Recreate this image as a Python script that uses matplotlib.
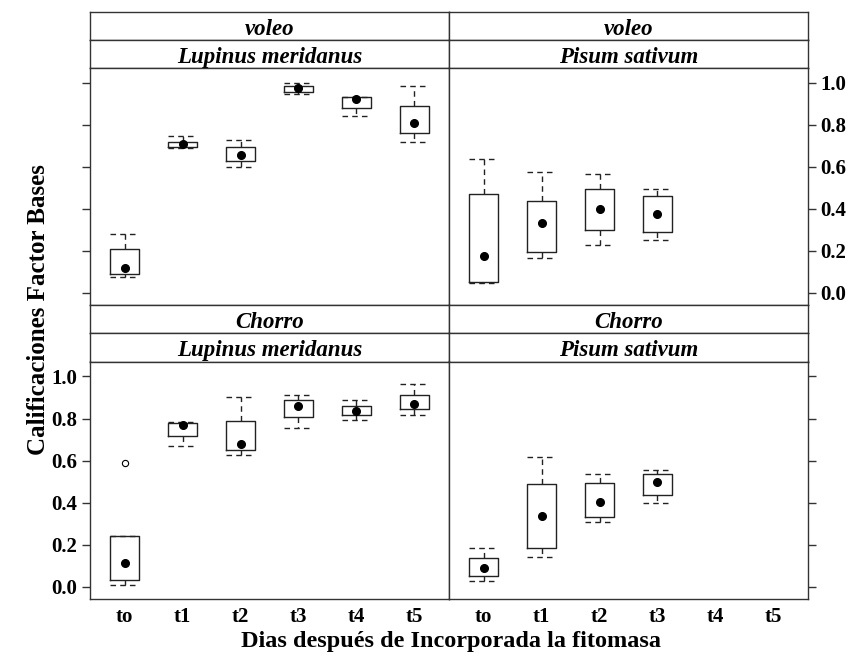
import matplotlib
matplotlib.use("Agg")
import matplotlib.pyplot as plt

plt.rcParams['font.family'] = ['Liberation Serif', 'DejaVu Serif']
plt.rcParams['font.weight'] = 'bold'

categories = ["to", "t1", "t2", "t3", "t4", "t5"]

# box stats per panel: lower whisker, q1, median, q3, upper whisker
vl_lupinus = dict(
    whislo=[0.076, 0.690, 0.601, 0.946, 0.843, 0.718],
    q1=[0.090, 0.694, 0.626, 0.959, 0.881, 0.762],
    med=[0.119, 0.707, 0.655, 0.975, 0.924, 0.810],
    q3=[0.208, 0.721, 0.694, 0.984, 0.933, 0.892],
    whishi=[0.282, 0.745, 0.729, 1.000, 0.933, 0.984],
    fliers=[[], [], [], [], [], []],
)
vl_pisum = dict(
    whislo=[0.049, 0.165, 0.230, 0.253],
    q1=[0.054, 0.194, 0.301, 0.289],
    med=[0.176, 0.333, 0.401, 0.377],
    q3=[0.469, 0.436, 0.496, 0.461],
    whishi=[0.636, 0.575, 0.564, 0.496],
    fliers=[[], [], [], []],
)
ch_lupinus = dict(
    whislo=[0.010, 0.670, 0.627, 0.754, 0.795, 0.819],
    q1=[0.035, 0.718, 0.652, 0.808, 0.816, 0.845],
    med=[0.116, 0.770, 0.681, 0.860, 0.838, 0.870],
    q3=[0.243, 0.778, 0.789, 0.886, 0.860, 0.914],
    whishi=[0.243, 0.784, 0.900, 0.910, 0.888, 0.962],
    fliers=[[0.590], [], [], [], [], []],
)
ch_pisum = dict(
    whislo=[0.027, 0.143, 0.308, 0.398],
    q1=[0.054, 0.186, 0.334, 0.437],
    med=[0.092, 0.338, 0.403, 0.498],
    q3=[0.137, 0.490, 0.494, 0.538],
    whishi=[0.183, 0.616, 0.538, 0.554],
    fliers=[[], [], [], []],
)

strip_top = ["voleo", "voleo", "Chorro", "Chorro"]
strip_bot = ["Lupinus meridanus", "Pisum sativum", "Lupinus meridanus", "Pisum sativum"]
yticks = [0.0, 0.2, 0.4, 0.6, 0.8, 1.0]

W, H = 853, 659
fig = plt.figure(figsize=(W / 100, H / 100), dpi=100)


def px_axes(x0, y0, x1, y1):
    # pixel box (top-left origin) -> figure axes
    return fig.add_axes([x0 / W, (H - y1) / H, (x1 - x0) / W, (y1 - y0) / H])


def draw_panel(ax, data):
    n = len(data["med"])
    stats = []
    for i in range(n):
        stats.append(dict(med=data["med"][i], q1=data["q1"][i], q3=data["q3"][i],
                          whislo=data["whislo"][i], whishi=data["whishi"][i],
                          fliers=data["fliers"][i]))
    pos = list(range(1, n + 1))
    ax.bxp(stats, positions=pos, widths=0.5, capwidths=0.5,
           boxprops=dict(color="#222222", linewidth=1.0),
           whiskerprops=dict(color="#222222", linewidth=1.0, linestyle=(0, (4, 3))),
           capprops=dict(color="#222222", linewidth=1.0, linestyle=(0, (4, 3))),
           medianprops=dict(visible=False),
           flierprops=dict(marker="o", markersize=4.5, markerfacecolor="white",
                           markeredgecolor="black", markeredgewidth=0.8))
    ax.plot(pos, data["med"], "o", color="black", markersize=5.5, zorder=5)
    ax.set_xlim(0.4, 6.6)
    ax.set_ylim(-0.055, 1.071)
    ax.set_yticks(yticks)
    ax.set_xticks(range(1, 7))
    for s in ax.spines.values():
        s.set_color("#333333")
        s.set_linewidth(1.0)


def draw_strip(x0, y0, x1, y1, text):
    ax = px_axes(x0, y0, x1, y1)
    ax.set_xticks([])
    ax.set_yticks([])
    for s in ax.spines.values():
        s.set_color("#333333")
        s.set_linewidth(1.0)
    ax.text(0.5, 0.38, text, ha="center", va="center", fontsize=16.5,
            fontstyle="italic", fontweight="bold", transform=ax.transAxes)


XL, XM, XR = 90, 449, 808
rows = [(12, 40, 68, 304.5), (304.5, 333, 361.5, 598.5)]
panels = [[vl_lupinus, vl_pisum], [ch_lupinus, ch_pisum]]

k = 0
for r, (s0, s1, p0, p1) in enumerate(rows):
    for c, (x0, x1) in enumerate([(XL, XM), (XM, XR)]):
        draw_strip(x0, s0, x1, s1, strip_top[k])
        draw_strip(x0, s1, x1, p0, strip_bot[k])
        ax = px_axes(x0, p0, x1, p1)
        draw_panel(ax, panels[r][c])
        ax.tick_params(axis="y", direction="out", length=6, width=1.0,
                       color="#333333", labelsize=15, pad=3)
        ax.tick_params(axis="x", length=0, labelsize=15, pad=6)
        if r == 0:
            ax.set_xticklabels([])
        else:
            ax.set_xticklabels(categories)
        # left column ticks on left, right column on right
        if c == 1:
            ax.yaxis.tick_right()
        if (r, c) == (0, 1) or (r, c) == (1, 0):
            ax.set_yticklabels([f"{v:.1f}" for v in yticks])
        else:
            ax.set_yticklabels([])
        k += 1

fig.text(39 / W, 1 - 310 / H, "Calificaciones Factor Bases", rotation=90,
         ha="center", va="center", fontsize=18, fontweight="bold")
fig.text(451 / W, 1 - 641 / H, "Dias después de Incorporada la fitomasa",
         ha="center", va="center", fontsize=17.5, fontweight="bold")

fig.savefig("out.png", dpi=100)
